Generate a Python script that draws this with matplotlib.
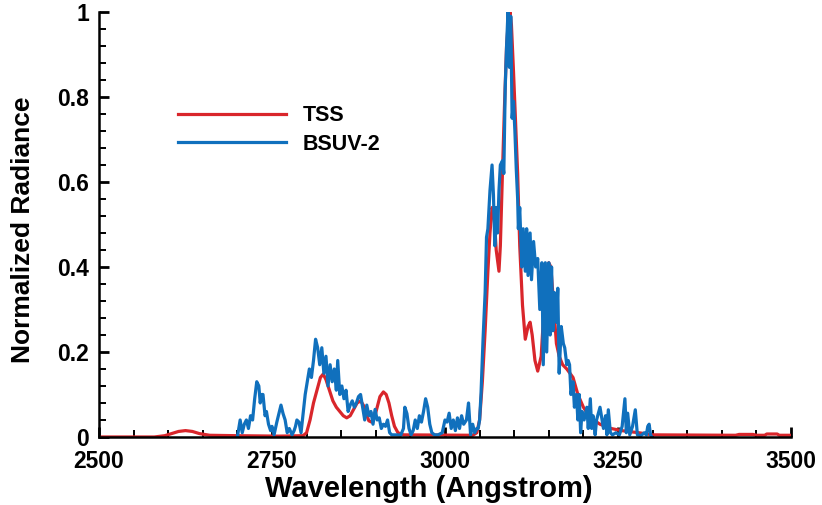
import matplotlib
matplotlib.use("Agg")
import matplotlib.pyplot as plt
from matplotlib.ticker import MultipleLocator, FuncFormatter

plt.rcParams['font.family'] = ['Liberation Sans', 'DejaVu Sans']
plt.rcParams['font.weight'] = 'bold'

# TSS (red) spectrum
tss_wl = [2500, 2580, 2595, 2605, 2615, 2625, 2635, 2645, 2660, 2700, 2760, 2795,
          2800, 2805, 2810, 2815, 2820, 2824, 2828, 2833, 2838, 2843, 2848, 2853,
          2858, 2863, 2868, 2873, 2878, 2882, 2886, 2890, 2894, 2898, 2902, 2906,
          2911, 2915, 2919, 2923, 2927, 2932, 2940, 3040, 3046, 3050, 3054, 3058,
          3062, 3065, 3068, 3071, 3074, 3078, 3080, 3083, 3086, 3089, 3092, 3094,
          3096, 3099, 3102, 3105, 3108, 3112, 3116, 3120, 3123, 3126, 3130, 3134,
          3139, 3143, 3147, 3150, 3153, 3157, 3161, 3165, 3170, 3176, 3185, 3192,
          3200, 3210, 3224, 3240, 3255, 3280, 3300, 3420, 3425, 3445, 3450, 3462,
          3465, 3480, 3483, 3500]
tss_val = [0.0, 0.0, 0.003, 0.008, 0.013, 0.015, 0.013, 0.008, 0.004, 0.003, 0.002, 0.003,
           0.01, 0.04, 0.08, 0.11, 0.14, 0.148, 0.135, 0.11, 0.085, 0.07, 0.06, 0.05,
           0.045, 0.05, 0.065, 0.08, 0.085, 0.075, 0.055, 0.038, 0.035, 0.045, 0.07, 0.095,
           0.106, 0.1, 0.08, 0.05, 0.025, 0.01, 0.005, 0.004, 0.01, 0.04, 0.13, 0.25,
           0.39, 0.48, 0.54, 0.52, 0.44, 0.39, 0.45, 0.62, 0.78, 0.92, 0.99, 1.0,
           0.97, 0.86, 0.74, 0.62, 0.45, 0.31, 0.23, 0.26, 0.27, 0.24, 0.18, 0.155,
           0.19, 0.30, 0.39, 0.41, 0.40, 0.31, 0.22, 0.19, 0.17, 0.16, 0.14, 0.10,
           0.07, 0.045, 0.03, 0.02, 0.015, 0.01, 0.005, 0.004, 0.006, 0.006, 0.004, 0.004,
           0.007, 0.007, 0.004, 0.004]

# BSUV-2 (blue) spectrum
bsuv_wl = [2700, 2701, 2704, 2707, 2710, 2713, 2716, 2719, 2722, 2725, 2728, 2731,
           2733, 2735, 2737, 2740, 2742, 2745, 2748, 2750, 2753, 2757, 2760, 2763,
           2766, 2769, 2772, 2775, 2779, 2782, 2784, 2786, 2789, 2792, 2795, 2798,
           2801, 2804, 2807, 2810, 2813, 2816, 2819, 2822, 2825, 2828, 2831, 2834,
           2837, 2840, 2843, 2845, 2848, 2851, 2854, 2857, 2860, 2863, 2866, 2869,
           2872, 2875, 2878, 2881, 2884, 2887, 2890, 2893, 2896, 2899, 2902, 2905,
           2908, 2911, 2914, 2917, 2920, 2923, 2930, 2936, 2940, 2942, 2945, 2948,
           2951, 2954, 2957, 2960, 2963, 2966, 2969, 2972, 2975, 2978, 2981, 2985,
           2990, 2996, 3000, 3003, 3006, 3009, 3012, 3015, 3018, 3021, 3024, 3027,
           3031, 3034, 3037, 3040, 3043, 3046, 3048, 3050, 3052, 3055, 3058, 3060,
           3062, 3065, 3068, 3070, 3072, 3074, 3076, 3078, 3080, 3083, 3085, 3087,
           3089, 3091, 3093, 3095, 3097, 3099, 3101, 3103, 3105, 3106, 3108, 3111,
           3113, 3116, 3118, 3120, 3123, 3125, 3128, 3131, 3134, 3137, 3140, 3142,
           3145, 3147, 3150, 3152, 3154, 3156, 3158, 3161, 3163, 3165, 3168, 3171,
           3173, 3176, 3178, 3180, 3182, 3185, 3187, 3190, 3192, 3194, 3196, 3198,
           3201, 3205, 3207, 3210, 3212, 3214, 3217, 3219, 3224, 3227, 3229, 3232,
           3234, 3236, 3239, 3242, 3247, 3252, 3256, 3260, 3262, 3264, 3267, 3271,
           3275, 3278, 3283, 3288, 3291, 3293, 3295, 3297, 3299]
bsuv_val = [0.0, 0.01, 0.04, 0.01, 0.03, 0.04, 0.02, 0.05, 0.04, 0.09, 0.13, 0.12,
            0.08, 0.10, 0.10, 0.05, 0.06, 0.03, 0.015, 0.025, 0.005, 0.035, 0.055, 0.075,
            0.055, 0.04, 0.01, 0.02, 0.005, 0.015, 0.025, 0.04, 0.035, 0.01, 0.055, 0.10,
            0.13, 0.16, 0.14, 0.18, 0.23, 0.21, 0.17, 0.21, 0.15, 0.19, 0.12, 0.17,
            0.13, 0.16, 0.11, 0.18, 0.10, 0.12, 0.09, 0.11, 0.06, 0.075, 0.085, 0.07,
            0.08, 0.095, 0.10, 0.07, 0.04, 0.075, 0.05, 0.06, 0.03, 0.065, 0.04, 0.045,
            0.02, 0.03, 0.025, 0.04, 0.01, 0.005, 0.005, 0.004, 0.02, 0.07, 0.055, 0.02,
            0.005, 0.015, 0.04, 0.02, 0.05, 0.035, 0.06, 0.09, 0.07, 0.03, 0.01, 0.005,
            0.005, 0.01, 0.04, 0.035, 0.056, 0.02, 0.04, 0.015, 0.045, 0.02, 0.05, 0.03,
            0.04, 0.08, 0.005, 0.03, 0.01, 0.02, 0.02, 0.04, 0.10, 0.23, 0.34, 0.47,
            0.49, 0.58, 0.64, 0.57, 0.45, 0.54, 0.48, 0.58, 0.64, 0.65, 0.62, 0.82,
            0.92, 1.0, 0.87, 0.99, 0.75, 0.79, 0.72, 0.63, 0.56, 0.49, 0.54, 0.40,
            0.49, 0.39, 0.49, 0.38, 0.48, 0.37, 0.46, 0.40, 0.42, 0.30, 0.41, 0.17,
            0.41, 0.20, 0.41, 0.24, 0.40, 0.25, 0.34, 0.27, 0.35, 0.15, 0.26, 0.22,
            0.21, 0.17, 0.18, 0.17, 0.10, 0.13, 0.07, 0.10, 0.04, 0.10, 0.01, 0.06,
            0.04, 0.07, 0.02, 0.09, 0.02, 0.05, 0.005, 0.04, 0.07, 0.04, 0.02, 0.05,
            0.005, 0.064, 0.01, 0.005, 0.01, 0.005, 0.025, 0.09, 0.01, 0.056, 0.005, 0.025,
            0.064, 0.005, 0.003, 0.01, 0.005, 0.025, 0.03, 0.005, 0.0]

x_ticks = [2500, 2750, 3000, 3250, 3500]
y_ticks = [0, 0.2, 0.4, 0.6, 0.8, 1.0]

fig = plt.figure(figsize=(8.22, 5.05), dpi=100)
ax = fig.add_axes([0.1204, 0.1347, 0.8419, 0.8415])

ax.plot(tss_wl, tss_val, color='#d9262b', lw=2.3, label='TSS')
ax.plot(bsuv_wl, bsuv_val, color='#1070bd', lw=2.3, label='BSUV-2')

ax.set_xlim(2500, 3500)
ax.set_ylim(0, 1)
ax.set_xticks(x_ticks)
ax.set_yticks(y_ticks)
ax.xaxis.set_minor_locator(MultipleLocator(50))
ax.yaxis.set_minor_locator(MultipleLocator(0.04))
ax.yaxis.set_major_formatter(FuncFormatter(lambda v, p: f"{v:g}"))
for s in ['top', 'right']:
    ax.spines[s].set_visible(False)
for s in ['left', 'bottom']:
    ax.spines[s].set_linewidth(1.8)
ax.tick_params(which='major', direction='in', length=7.5, width=2.0, labelsize=16.5)
ax.tick_params(axis='y', which='major', pad=7)
ax.tick_params(axis='x', which='major', pad=9.5)
ax.tick_params(which='minor', direction='in', length=5, width=1.4)
for lab in ax.get_xticklabels() + ax.get_yticklabels():
    lab.set_fontweight('bold')

ax.set_xlabel('Wavelength (Angstrom)', fontsize=21, fontweight='bold')
ax.xaxis.set_label_coords(0.477, -0.09)
ax.set_ylabel('Normalized Radiance', fontsize=19, fontweight='bold')
ax.yaxis.set_label_coords(-0.0925, 0.487)

leg = ax.legend(loc='upper left', bbox_to_anchor=(0.114, 0.7806), frameon=False,
                fontsize=15.5, handlelength=5.0, handletextpad=0.8, labelspacing=0.34,
                borderpad=0, borderaxespad=0)
for t in leg.get_texts():
    t.set_fontweight('bold')

fig.savefig('out.png', dpi=100)
